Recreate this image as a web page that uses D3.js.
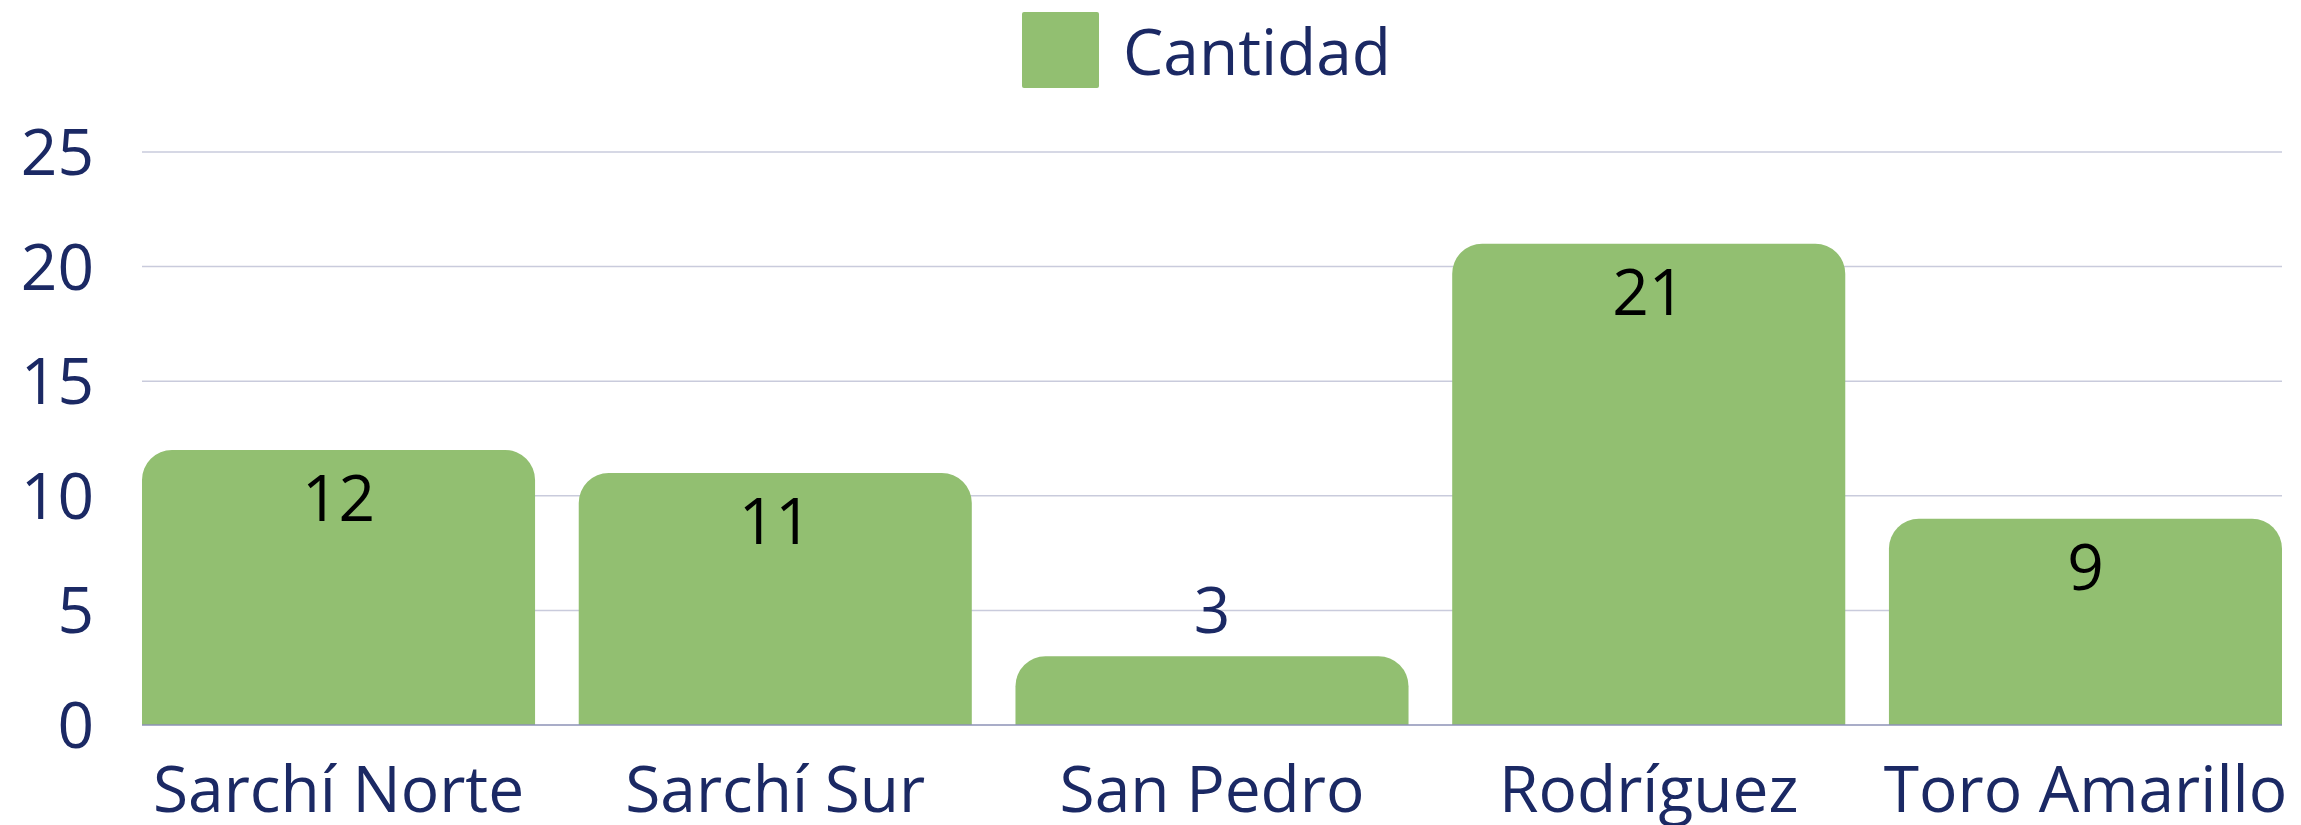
<!DOCTYPE html>
<html>
<head>
<meta charset="utf-8">
<script src="https://cdn.jsdelivr.net/npm/d3@7"></script>
<style>
  html, body { margin: 0; padding: 0; background: #fff; }
  text { font-family: "Open Sans", sans-serif; }
</style>
</head>
<body>
<svg id="chart"></svg>
<script>
const categories = ["Sarchí Norte", "Sarchí Sur", "San Pedro", "Rodríguez", "Toro Amarillo"];
const values = [12, 11, 3, 21, 9];
const yTicks = [0, 5, 10, 15, 20, 25];
const seriesName = "Cantidad";

const W = 2301, H = 825;
const margin = {top: 152, right: 19, bottom: 100, left: 142};
const NAVY = "#1b2964";
const GREEN = "#92bf71";
const FONT = 64;

const svg = d3.select("#chart").attr("width", W).attr("height", H);
const g = svg.append("g").attr("transform", `translate(${margin.left},${margin.top})`);
const w = W - margin.left - margin.right;
const h = H - margin.top - margin.bottom;

const x = d3.scaleBand().domain(categories).range([0, w]).paddingInner(0.1).paddingOuter(0);
const y = d3.scaleLinear().domain([0, 25]).range([h, 0]);

// grid
g.selectAll(".grid").data(yTicks.filter(t => t > 0)).join("line")
  .attr("x1", 0).attr("x2", w)
  .attr("y1", d => y(d)).attr("y2", d => y(d))
  .attr("stroke", "#c9cbdc").attr("stroke-width", 1.5);

// y labels
g.selectAll(".ylab").data(yTicks).join("text")
  .attr("x", -48).attr("y", d => y(d))
  .attr("dy", "0.36em")
  .attr("text-anchor", "end")
  .attr("fill", NAVY).attr("font-size", FONT)
  .text(d => d);

// bars, top corners rounded
const r = 30;
function barPath(d, i) {
  const x0 = x(categories[i]), x1 = x0 + x.bandwidth();
  const y0 = y(d), yb = y(0);
  const rr = Math.min(r, (yb - y0));
  return `M${x0},${yb} L${x0},${y0 + rr} A${rr},${rr} 0 0 1 ${x0 + rr},${y0} L${x1 - rr},${y0} A${rr},${rr} 0 0 1 ${x1},${y0 + rr} L${x1},${yb} Z`;
}
g.selectAll(".bar").data(values).join("path")
  .attr("d", barPath)
  .attr("fill", GREEN);

// baseline
g.append("line")
  .attr("x1", 0).attr("x2", w)
  .attr("y1", y(0)).attr("y2", y(0))
  .attr("stroke", "#8d92b6").attr("stroke-width", 1.5);

// value labels (inside when the bar is tall enough)
const fits = d => y(0) - y(d) > 90;
g.selectAll(".val").data(values).join("text")
  .attr("x", (d, i) => x(categories[i]) + x.bandwidth() / 2)
  .attr("y", d => fits(d) ? y(d) + 71 : y(d) - 23)
  .attr("text-anchor", "middle")
  .attr("font-size", FONT)
  .attr("fill", d => fits(d) ? "#000" : NAVY)
  .text(d => d);

// x labels
g.selectAll(".xlab").data(categories).join("text")
  .attr("x", d => x(d) + x.bandwidth() / 2)
  .attr("y", h + 87)
  .attr("text-anchor", "middle")
  .attr("fill", NAVY).attr("font-size", FONT)
  .text(d => d);

// legend
const lg = svg.append("g").attr("transform", "translate(1022,12)");
lg.append("rect").attr("width", 77).attr("height", 76).attr("rx", 2).attr("fill", GREEN);
lg.append("text").attr("x", 101).attr("y", 63)
  .attr("fill", NAVY).attr("font-size", FONT)
  .text(seriesName);
</script>
</body>
</html>
